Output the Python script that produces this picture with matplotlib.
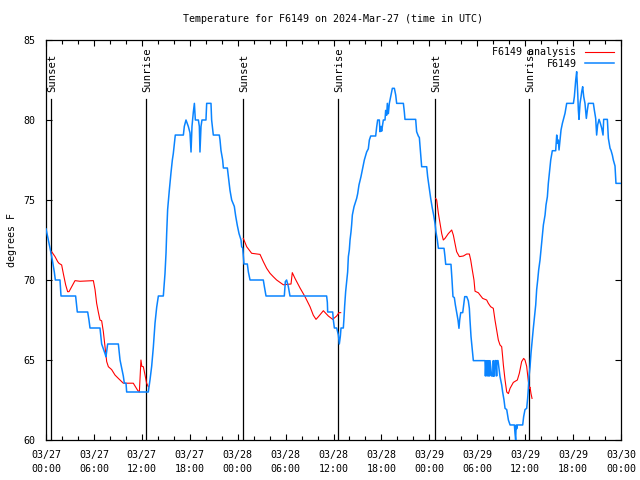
import numpy as np
import matplotlib
matplotlib.use("Agg")
import matplotlib.pyplot as plt

# ---------------- data (hours since 2024-03-27 00:00 UTC) ----------------
obs_hours = [0.0, 0.29, 0.50, 0.79, 1.04, 1.17, 1.75, 1.88, 3.71, 3.92, 5.22, 5.38, 5.51, 6.76, 6.97,
             7.39, 7.51, 7.72, 9.06, 9.27, 9.68, 9.81, 10.02, 10.10, 12.81,
             13.02, 13.23, 13.44, 13.65, 13.86, 14.07, 14.69, 14.78, 14.90, 15.03, 15.11, 15.23, 15.44,
             15.65, 15.82, 15.94, 16.07, 16.19, 17.20, 17.32, 17.53, 17.82, 18.03, 18.16, 18.28, 18.45,
             18.58, 18.70, 19.08, 19.20, 19.28, 19.41, 19.53, 20.03, 20.12, 20.66, 20.74, 20.95, 21.70,
             21.79, 21.91, 22.12, 22.21, 22.71, 22.83, 23.04, 23.25, 23.58, 23.75, 23.96, 24.17,
             24.42, 24.50, 24.63, 24.71, 24.79, 25.21, 25.34, 25.55, 27.21, 27.34, 27.55, 29.84, 29.97,
             30.13, 30.34, 30.55, 35.14, 35.23, 35.27, 35.90, 35.98, 36.11, 36.40, 36.61, 36.73, 36.86,
             36.94, 37.23, 37.31, 37.40,
             37.52, 37.65, 37.77, 37.86, 37.98, 38.07, 38.19, 38.27, 38.36, 38.57, 38.78, 38.90, 39.03,
             39.19, 39.44, 39.61, 39.86, 40.03, 40.15, 40.36, 40.49, 40.66, 41.28, 41.41, 41.53, 41.74,
             41.82, 41.95, 42.03, 42.24, 42.45, 42.53, 42.66, 42.74, 42.87, 42.99, 43.20, 43.37, 43.62,
             43.79, 43.91, 44.75, 44.87, 44.95, 46.29, 46.41, 46.62, 46.75, 46.96, 47.04, 47.67, 47.79,
             47.96, 48.17, 48.37, 48.54, 48.71, 48.83, 49.0, 49.13,
             49.84, 49.96, 50.05, 50.71, 50.84, 50.96, 51.13, 51.26, 51.42, 51.59, 51.71, 51.80, 51.93,
             52.18, 52.30, 52.43, 52.68, 52.88, 53.01, 53.09, 53.22, 53.34, 53.43, 53.51, 54.97,
             55.02, 55.10, 55.22, 55.27, 55.39, 55.43, 55.55, 55.60, 55.80, 55.97, 56.01, 56.05, 56.18,
             56.22, 56.35, 56.43, 56.47, 56.60, 56.85,
             56.93, 57.06, 57.18, 57.35, 57.48, 57.69, 57.90, 58.11, 58.65, 58.73, 58.81, 58.87, 58.94,
             59.02, 59.69, 59.81, 59.98, 60.19, 60.31, 60.40, 60.48, 60.61, 60.73, 60.90, 61.02, 61.15,
             61.32, 61.44, 61.57, 61.69, 61.86, 61.98, 62.15, 62.28, 62.49, 62.61, 62.78, 62.90, 63.03,
             63.20, 63.40, 63.82, 63.95, 64.03, 64.15, 64.24, 64.36, 64.49, 64.66, 64.82, 64.99, 65.20,
             66.04, 66.16, 66.33, 66.45, 66.58, 66.66, 66.74, 66.87, 67.0, 67.08, 67.20, 67.33, 67.49,
             67.66, 67.79, 67.91, 68.54, 68.66, 68.83, 68.95, 69.08, 69.25, 69.41, 69.58, 69.75, 69.83,
             70.29, 70.42, 70.63, 70.75, 70.92, 71.04, 71.25, 71.37, 72.0]
obs_temps = [73.2, 72.5, 72.0, 71.25, 70.5, 70.0, 70.0, 69.0, 69.0, 68.0, 68.0, 67.5, 67.0, 67.0, 66.0,
             65.4, 65.2, 66.0, 66.0, 65.0, 64.0, 63.55, 63.55, 63.0, 63.0,
             63.75, 64.6, 65.8, 67.3, 68.3, 69.0, 69.0, 69.6, 70.4, 71.7, 72.9, 74.4, 75.6,
             76.7, 77.5, 77.9, 78.5, 79.06, 79.06, 79.6, 80.0, 79.6, 79.2, 78.0, 79.6, 80.5,
             81.04, 80.0, 80.0, 79.6, 78.0, 79.6, 80.0, 80.0, 81.04, 81.04, 80.0, 79.06, 79.06,
             78.75, 78.1, 77.5, 77.0, 77.0, 76.5, 75.6, 75.0, 74.6, 74.0, 73.4, 72.9,
             72.5, 72.08, 72.0, 71.46, 71.0, 71.0, 70.5, 70.0, 70.0, 69.6, 69.0, 69.0, 69.9,
             70.0, 69.6, 69.0, 69.0, 68.6, 68.0, 68.0, 67.5, 67.0, 67.0, 66.56, 66.0, 66.5,
             67.0, 67.0, 67.6, 68.4,
             69.27, 69.9, 70.5, 71.46, 71.875, 72.5, 73.0, 73.44, 74.06, 74.58, 74.9, 75.1, 75.4,
             75.94, 76.46, 76.875, 77.5, 77.8, 78.0, 78.2, 78.75, 79.0, 79.0, 79.58, 80.0, 80.0,
             79.27, 79.6, 79.3, 80.0, 80.0, 80.6, 80.3, 81.04, 80.4, 81.04, 81.56, 81.98, 81.98,
             81.56, 81.04, 81.04, 80.5, 80.04, 80.04, 79.27, 79.0, 78.9, 77.6, 77.08, 77.08, 76.46,
             75.83, 75.1, 74.5, 74.06, 73.54, 73.0, 72.5, 71.98,
             71.98, 71.46, 70.98, 70.98, 70.0, 68.96, 68.9, 68.44, 68.0, 67.5, 66.98, 67.5, 67.96,
             67.96, 68.44, 68.96, 68.96, 68.7, 68.23, 67.5, 66.46, 65.83, 65.3, 64.96, 64.96,
             64.0, 64.96, 64.0, 64.96, 64.0, 64.96, 64.0, 64.96, 64.0, 64.0, 64.96, 64.0, 64.0,
             64.96, 64.96, 64.0, 64.96, 64.96, 63.96,
             63.75, 63.44, 63.0, 62.5, 61.98, 61.9, 61.25, 60.94, 60.94, 60.4, 60.0, 60.94, 60.7,
             60.94, 60.94, 61.46, 61.9, 61.98, 62.6, 63.23, 63.96, 64.58, 65.42, 66.35, 66.98, 67.6,
             68.44, 69.4, 70.0, 70.625, 71.25, 71.875, 72.7, 73.44, 74.06, 74.69, 75.2, 76.04, 76.67,
             77.5, 78.08, 78.08, 79.06, 78.54, 78.75, 78.125, 78.75, 79.375, 79.79, 80.1, 80.42, 81.04,
             81.04, 81.46, 82.5, 83.02, 81.67, 80.625, 80.04, 81.04, 81.46, 81.77, 82.08, 81.46, 81.04,
             80.1, 80.625, 81.04, 81.04, 80.625, 80.1, 79.06, 79.7, 80.04, 79.8, 79.5, 79.06, 80.04,
             80.04, 78.85, 78.23, 78.1, 77.8, 77.5, 77.125, 76.04, 76.04]

ana_hours = [0.71, 1.13, 1.46, 1.63, 1.96, 2.17, 2.46, 2.71, 2.88, 3.63, 4.26, 5.93, 6.14, 6.34, 6.55,
             6.76, 6.97, 7.18, 7.39, 7.60, 7.81, 8.22, 8.64, 9.06, 9.68, 10.93, 11.48, 11.69, 11.89,
             12.0, 12.19, 12.4, 12.6, 12.81,
             np.nan,
             24.71, 25.13, 25.75, 26.80, 27.21, 27.63, 28.05, 28.47, 28.88, 29.72, 30.68, 30.84, 31.18,
             31.81, 32.43, 33.06, 33.47, 33.81, 34.10, 34.73, 35.35, 35.90, 36.40, 36.69, 36.90,
             np.nan,
             48.79, 48.92, 49.13, 49.34, 49.55, 49.75, 49.96, 50.38, 50.80, 51.01, 51.21, 51.42, 51.76,
             52.26, 52.68, 53.01, 53.18, 53.38, 53.59, 53.72, 54.14, 54.35, 54.68, 55.18, 55.39, 55.68,
             56.01, 56.22, 56.43, 56.64, 56.85, 57.06, 57.18, 57.27, 57.48, 57.69, 57.90, 58.11, 58.52,
             59.02, 59.27, 59.56, 59.81, 59.98, 60.19, 60.40, 60.52, 60.61, 60.73, 60.86]
ana_temps = [71.77, 71.46, 71.15, 71.04, 70.94, 70.4, 69.7, 69.27, 69.27, 69.96, 69.92, 69.96, 69.4,
             68.55, 68.0, 67.5, 67.45, 66.77, 65.83, 64.9, 64.58, 64.4, 64.06, 63.85, 63.55, 63.55,
             63.1, 63.0, 65.0, 64.6, 64.58, 64.06, 63.55, 63.33,
             np.nan,
             72.6, 72.08, 71.67, 71.6, 71.15, 70.73, 70.42, 70.2, 70.0, 69.7, 69.75, 70.46, 70.1,
             69.5, 68.96, 68.33, 67.8, 67.54, 67.7, 68.08, 67.75, 67.54, 67.75, 67.96, 67.96,
             np.nan,
             75.1, 75.0, 74.17, 73.54, 72.9, 72.5, 72.6, 72.9, 73.125, 72.8, 72.29, 71.77, 71.46,
             71.5, 71.625, 71.625, 71.25, 70.625, 70.0, 69.3, 69.2, 69.06, 68.85, 68.75, 68.54, 68.33,
             68.23, 67.5, 66.875, 66.25, 65.94, 65.83, 65.2, 64.69, 63.75, 63.0, 62.9, 63.23, 63.6,
             63.75, 64.17, 64.9, 65.1, 65.0, 64.6, 63.65, 63.23, 63.3, 62.9, 62.6]

sun_hours = [0.68, 12.56, 24.72, 36.52, 48.76, 60.52]
sun_labels = ["Sunset", "Sunrise", "Sunset", "Sunrise", "Sunset", "Sunrise"]

tick_hours = [0, 6, 12, 18, 24, 30, 36, 42, 48, 54, 60, 66, 72]
tick_labels = ["03/27\n00:00", "03/27\n06:00", "03/27\n12:00", "03/27\n18:00",
               "03/28\n00:00", "03/28\n06:00", "03/28\n12:00", "03/28\n18:00",
               "03/29\n00:00", "03/29\n06:00", "03/29\n12:00", "03/29\n18:00",
               "03/30\n00:00"]
y_ticks = [60, 65, 70, 75, 80, 85]

# ---------------- plot ----------------
FONT = "DejaVu Sans Mono"
FS = 7.2
plt.rcParams["font.family"] = [FONT, "DejaVu Sans"]

fig = plt.figure(figsize=(6.4, 4.8), dpi=100)
ax = fig.add_axes([46 / 640, 1 - 440 / 480, 575 / 640, 400 / 480])

ax.plot(ana_hours, ana_temps, color="#ff0000", lw=0.8, label="F6149 analysis", zorder=3)
ax.plot(obs_hours, obs_temps, color="#0a84ff", lw=1.1, label="F6149", zorder=4)

for h, lab in zip(sun_hours, sun_labels):
    ax.plot([h, h], [0, 0.8525], transform=ax.get_xaxis_transform(), color="black", lw=0.9, zorder=2)
    ax.text(h + 0.15, 0.87, lab, transform=ax.get_xaxis_transform(), rotation=90, ha="left",
            va="center", fontsize=FS * 1.05, family=FONT, rotation_mode="anchor")

ax.set_xlim(0, 72)
ax.set_ylim(60, 85)
ax.set_xticks(tick_hours)
ax.set_xticklabels(tick_labels, fontsize=FS, family=FONT, linespacing=1.55)
ax.set_xticks(np.arange(0, 73, 2), minor=True)
ax.set_yticks(y_ticks)
ax.set_yticklabels([str(v) for v in y_ticks], fontsize=FS, family=FONT)
ax.tick_params(axis="both", which="both", direction="in", top=True, right=True, width=0.8)
ax.tick_params(axis="x", which="major", length=4, pad=7)
ax.tick_params(axis="x", which="minor", length=3)
ax.tick_params(axis="y", which="major", length=4, pad=8)
for s in ax.spines.values():
    s.set_linewidth(0.9)

ax.set_ylabel("degrees F", fontsize=FS, family=FONT, labelpad=4)
fig.text(333 / 640, 1 - 19 / 480, "Temperature for F6149 on 2024-Mar-27 (time in UTC)",
         ha="center", va="center", fontsize=FS, family=FONT)

leg = ax.legend(loc="upper right", frameon=False, markerfirst=False,
                handlelength=2.9, borderaxespad=0.35, labelspacing=0.15, handletextpad=0.8,
                prop={"family": FONT, "size": FS})

fig.savefig("out.png", dpi=100)
